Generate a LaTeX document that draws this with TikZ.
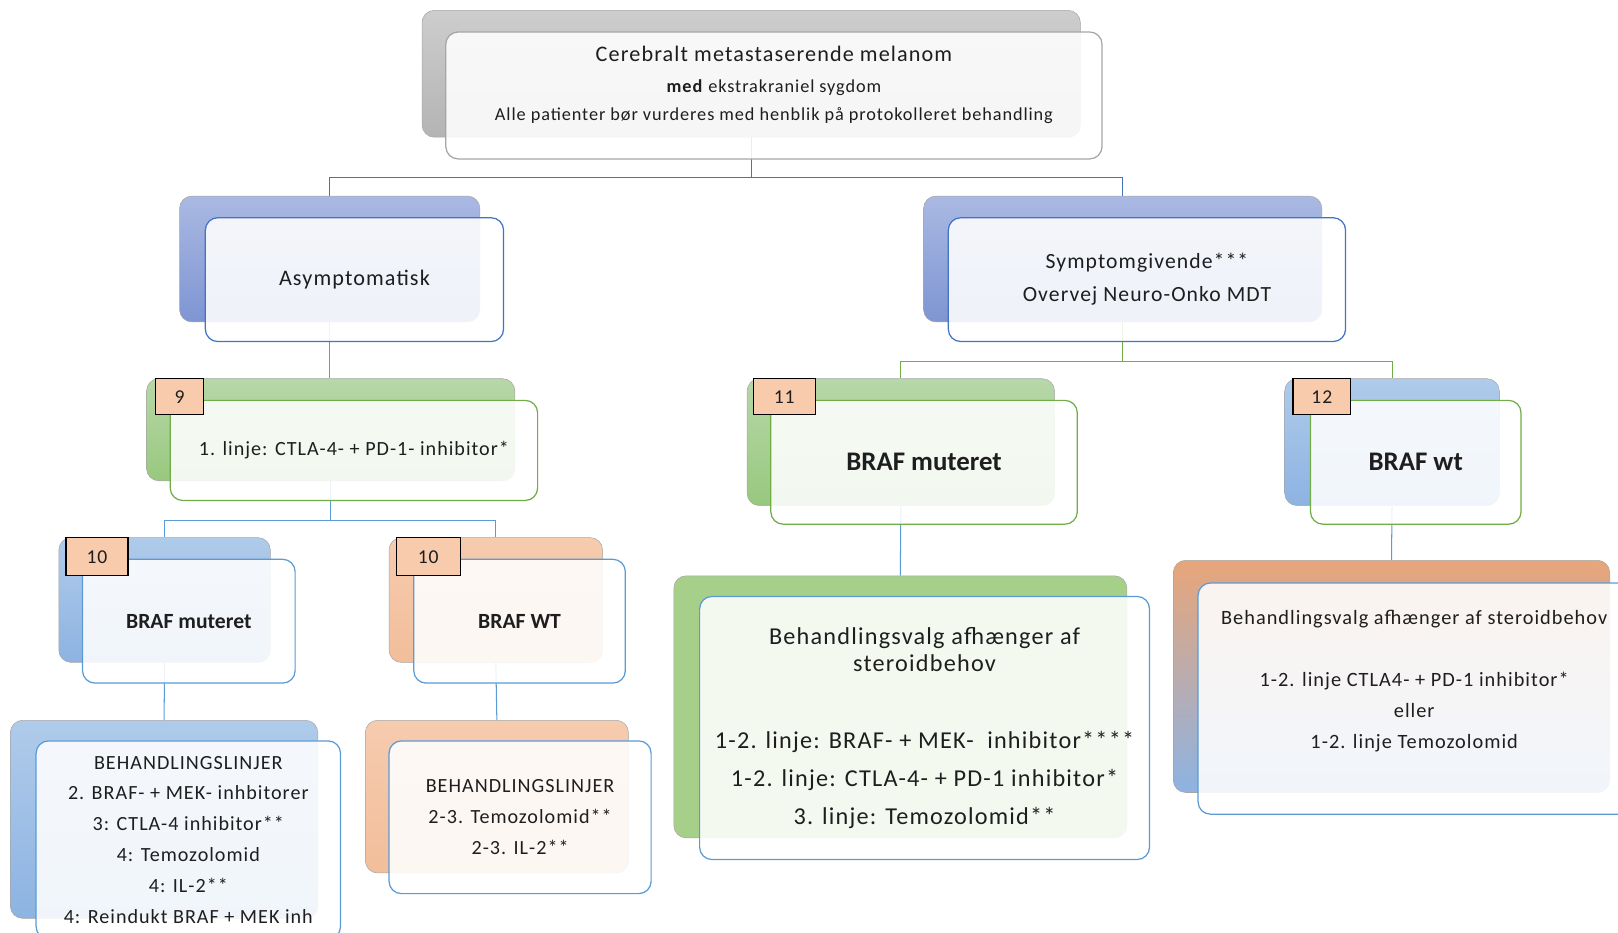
\documentclass[tikz,border=0pt]{standalone}
\usepackage{fontspec}
\setmainfont{Carlito}[LetterSpace=5]
\newfontfamily\plainfont{Carlito}
\usetikzlibrary{positioning,calc}

\definecolor{grayTop}{HTML}{CDCDCD}
\definecolor{grayBot}{HTML}{B4B4B4}
\definecolor{indigoTop}{HTML}{AAB9E3}
\definecolor{indigoBot}{HTML}{7E95D2}
\definecolor{greenTop}{HTML}{B7D7A8}
\definecolor{greenBot}{HTML}{98C87E}
\definecolor{greenFlat}{HTML}{A6CF8A}
\definecolor{skyTop}{HTML}{AFCBEA}
\definecolor{skyBot}{HTML}{8DB3E2}
\definecolor{peachTop}{HTML}{F6CBAE}
\definecolor{peachBot}{HTML}{F2BE9B}
\definecolor{orangeTop}{HTML}{E8A57A}
\definecolor{greyMid}{HTML}{BDBBC2}
\definecolor{badgePeach}{HTML}{F8CBAD}
\definecolor{lineGray}{HTML}{A6A6A6}
\definecolor{lineIndigo}{HTML}{4472C4}
\definecolor{lineGreen}{HTML}{70AD47}
\definecolor{lineBlue}{HTML}{5B9BD5}
\definecolor{textDark}{HTML}{1E1E1E}

\begin{document}
\begin{tikzpicture}[
    x=1pt, y=-1pt,
    back/.style={rectangle, draw=black!35, line width=0.5pt, rounded corners=12pt, inner sep=0pt},
    front/.style={rectangle, fill=white, fill opacity=0.88, text opacity=1, line width=1.2pt, rounded corners=12pt, align=center, text=textDark, inner sep=0pt},
    badge/.style={rectangle, draw=black, line width=1.2pt, fill=badgePeach, text=textDark, font=\fontsize{19}{22}\selectfont, inner sep=0pt},
    link/.style={line width=1pt},
    txtS/.style={font=\fontsize{19.5}{30}\selectfont},
    txtM/.style={font=\fontsize{21.5}{32}\selectfont},
    txtB/.style={font=\plainfont\fontsize{21}{26}\selectfont\bfseries},
    txtBL/.style={font=\plainfont\fontsize{26}{30}\selectfont\bfseries}
]
\useasboundingbox (0,0) rectangle (1568,904);
\clip (0,0) rectangle (1568,904);

% Back shapes
\node[back, top color=grayTop, bottom color=grayBot, minimum width=638pt, minimum height=123pt] (melanomBack) at (728,71.5) {};
\node[back, top color=indigoTop, bottom color=indigoBot, minimum width=291pt, minimum height=122pt] (asymBack) at (319.5,251) {};
\node[back, top color=indigoTop, bottom color=indigoBot, minimum width=386pt, minimum height=122pt] (sympBack) at (1088,251) {};
\node[back, top color=greenTop, bottom color=greenBot, minimum width=357pt, minimum height=99pt] (firstBack) at (320.5,416.5) {};
\node[back, top color=greenTop, bottom color=greenBot, minimum width=298pt, minimum height=123pt] (mutBack) at (873,428.5) {};
\node[back, top color=skyTop, bottom color=skyBot, minimum width=208pt, minimum height=123pt] (wtBack) at (1349,428.5) {};
\node[back, top color=skyTop, bottom color=skyBot, minimum width=205pt, minimum height=121pt] (asymMutBack) at (159.5,581.5) {};
\node[back, top color=peachTop, bottom color=peachBot, minimum width=207pt, minimum height=121pt] (asymWtBack) at (480.5,581.5) {};
\node[back, top color=skyTop, bottom color=skyBot, minimum width=298pt, minimum height=192pt] (linesMutBack) at (159,794) {};
\node[back, top color=peachTop, bottom color=peachBot, minimum width=255pt, minimum height=148pt] (linesWtBack) at (481.5,772) {};
\node[back, fill=greenFlat, minimum width=439pt, minimum height=254pt] (choiceMutBack) at (872.5,685) {};
\node[back, top color=orangeTop, middle color=greyMid, bottom color=skyBot, minimum width=423pt, minimum height=225pt] (choiceWtBack) at (1348.5,655.5) {};

% Connectors
\coordinate (busTop) at (728,172);
\draw[link, lineIndigo] (melanomBack.south) -- (busTop) -| (asymBack.north);
\draw[link, lineIndigo] (busTop) -| (sympBack.north);
\draw[link, lineGreen] (asymBack.south) -- (asymBack.south |- firstBack.north);
\coordinate (busSymp) at (1088,350);
\draw[link, lineGreen] (sympBack.south) -- (busSymp) -| (mutBack.north);
\draw[link, lineGreen] (busSymp) -| (wtBack.north);
\coordinate (busFirst) at (320.5,504);
\draw[link, lineBlue] (firstBack.south) -- (busFirst) -| (asymMutBack.north);
\draw[link, lineBlue] (busFirst) -| (asymWtBack.north);
\draw[link, lineBlue] (asymMutBack.south) -- (linesMutBack.north);
\draw[link, lineBlue] (asymWtBack.south) -- (linesWtBack.north);
\draw[link, lineBlue] (mutBack.south) -- (choiceMutBack.north);
\draw[link, lineBlue] (wtBack.south) -- (choiceWtBack.north);

% Front shapes
\node[front, draw=lineGray, minimum width=636pt, minimum height=123pt] (melanom) at (750,92.5) {};
\node[front, draw=lineIndigo, txtM, minimum width=289pt, minimum height=120pt] (asym) at (343.5,271) {Asymptomatisk};
\node[front, draw=lineIndigo, font=\fontsize{21}{32}\selectfont, minimum width=385pt, minimum height=120pt] (symp) at (1111.5,271) {Symptomgivende***\\ Overvej Neuro-Onko MDT};
\node[front, draw=lineGreen, txtS, minimum width=356pt, minimum height=97pt] (first) at (343,436.5) {1. linje: CTLA-4- + PD-1- inhibitor*};
\node[front, draw=lineGreen, txtBL, minimum width=297pt, minimum height=120pt] (mut) at (895.5,448) {BRAF muteret};
\node[front, draw=lineGreen, txtBL, minimum width=204pt, minimum height=120pt] (wt) at (1372,448) {BRAF wt};
\node[front, draw=lineBlue, txtB, minimum width=206pt, minimum height=120pt] (asymMut) at (183,602) {BRAF muteret};
\node[front, draw=lineBlue, txtB, minimum width=205pt, minimum height=120pt] (asymWt) at (503.5,602) {BRAF WT};
\node[front, draw=lineBlue, txtS, minimum width=295pt, minimum height=192pt] (linesMut) at (182.5,814) {BEHANDLINGSLINJER\\ 2. BRAF- + MEK- inhbitorer\\ 3: CTLA-4 inhibitor**\\ 4: Temozolomid\\ 4: IL-2**\\ 4: Reindukt BRAF + MEK inh};
\node[front, draw=lineBlue, txtS, minimum width=254pt, minimum height=148pt] (linesWt) at (504,792) {BEHANDLINGSLINJER\\ 2-3. Temozolomid**\\ 2-3. IL-2**};
\node[front, draw=lineBlue, font=\fontsize{23.5}{26}\selectfont, minimum width=436pt, minimum height=255pt] (choiceMut) at (896,705.5) {Behandlingsvalg afhænger af\\ steroidbehov\\[49pt] 1-2. linje: BRAF- + MEK-\ \ inhibitor****\\[11pt] 1-2. linje: CTLA-4- + PD-1 inhibitor*\\[11pt] 3. linje: Temozolomid**};
\node[front, draw=lineBlue, minimum width=423pt, minimum height=224pt] (choiceWt) at (1372.5,677) {};

% Texts of the top and right boxes
\node[align=center, text=textDark, font=\fontsize{17.7}{27}\selectfont] (melanomText) at ([yshift=10pt]melanom.center) {{\fontsize{21.5}{27}\selectfont Cerebralt metastaserende melanom}\\[3pt] \textbf{med} ekstrakraniel sygdom\\ Alle patienter bør vurderes med henblik på protokolleret behandling};
\node[align=center, text=textDark, font=\fontsize{19.7}{30}\selectfont] (choiceWtText) at ([yshift=17pt,xshift=-2pt]choiceWt.center) {Behandlingsvalg afhænger af steroidbehov\\[31pt] 1-2. linje CTLA4- + PD-1 inhibitor*\\ eller\\ 1-2. linje Temozolomid};

% Number tags
\node[badge, minimum width=46pt, minimum height=35pt] (tagFirst) at (174,384.5) {9};
\node[badge, minimum width=60pt, minimum height=35pt] (tagMut) at (760,384.5) {11};
\node[badge, minimum width=56pt, minimum height=35pt] (tagWt) at (1281,384.5) {12};
\node[badge, minimum width=60pt, minimum height=37pt] (tagAsymMut) at (94,539.5) {10};
\node[badge, minimum width=62pt, minimum height=37pt] (tagAsymWt) at (415,539.5) {10};

\end{tikzpicture}
\end{document}
